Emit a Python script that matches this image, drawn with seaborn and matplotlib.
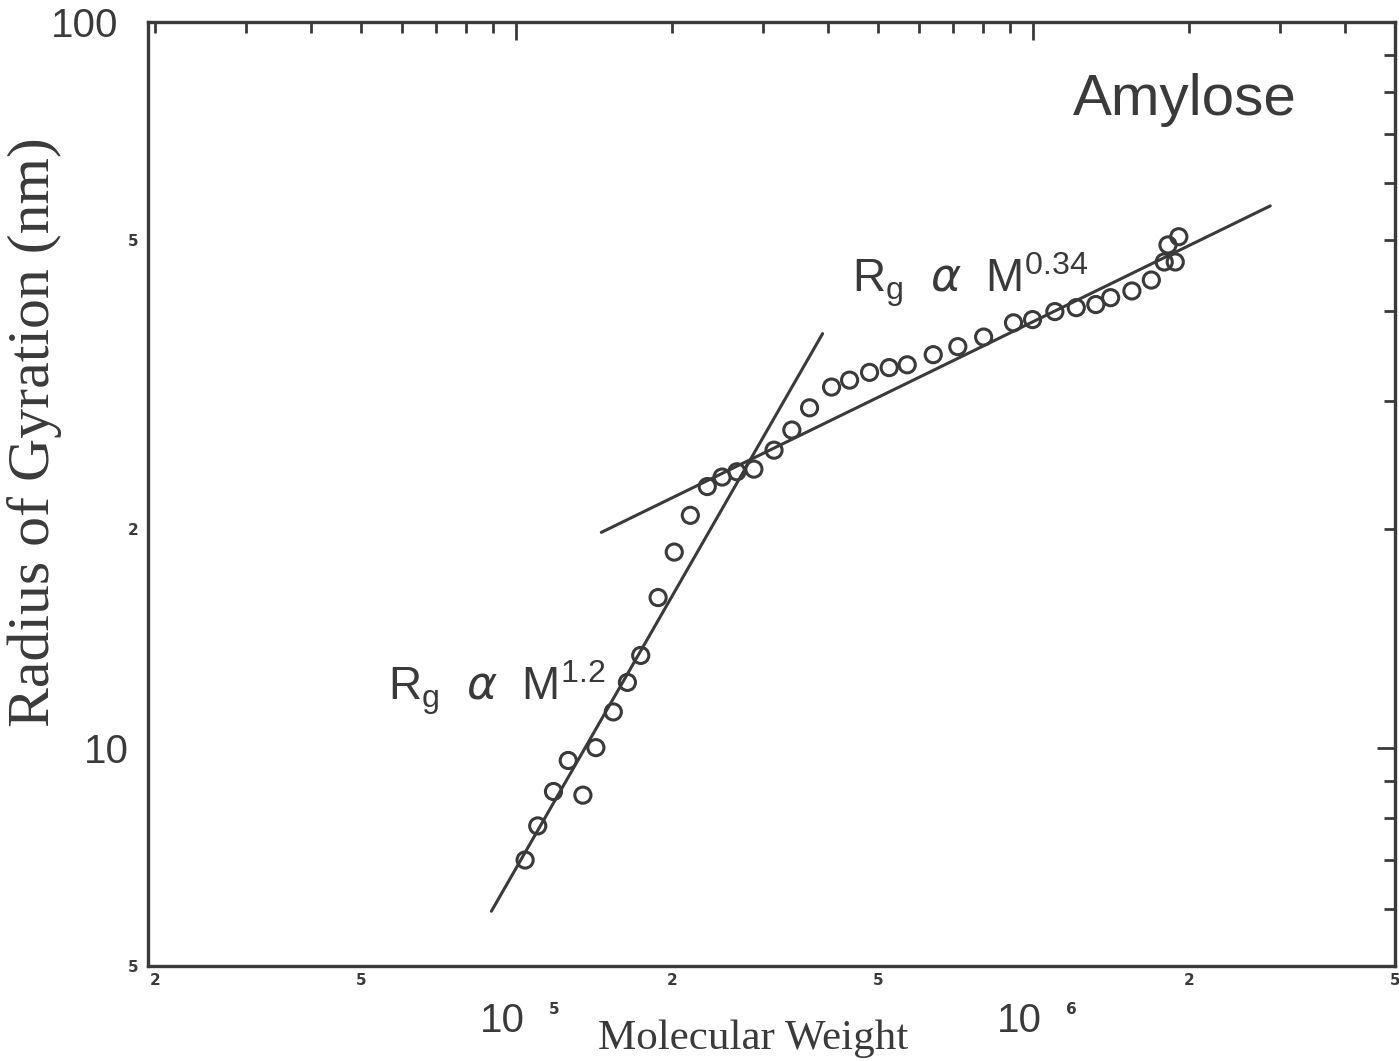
import matplotlib
matplotlib.use("Agg")
import matplotlib.pyplot as plt
from matplotlib.transforms import ScaledTranslation
import pandas as pd
import seaborn as sns

# Light-scattering data for amylose: molecular weight vs radius of gyration (nm)
mol_weight = [1.04e5, 1.10e5, 1.18e5, 1.26e5, 1.345e5, 1.425e5, 1.54e5, 1.64e5,
              1.74e5, 1.88e5, 2.02e5, 2.17e5, 2.34e5, 2.50e5, 2.67e5, 2.88e5,
              3.15e5, 3.41e5, 3.69e5, 4.07e5, 4.41e5, 4.82e5, 5.26e5, 5.70e5,
              6.40e5, 7.14e5, 8.01e5, 9.15e5, 9.96e5, 1.10e6, 1.21e6, 1.32e6,
              1.41e6, 1.55e6, 1.69e6, 1.79e6, 1.88e6, 1.82e6, 1.91e6]
radius_gyration = [7.0, 7.8, 8.7, 9.6, 8.6, 10.0, 11.2, 12.3,
                   13.4, 16.1, 18.6, 20.9, 22.9, 23.6, 24.0, 24.2,
                   25.7, 27.4, 29.4, 31.4, 32.1, 32.9, 33.4, 33.7,
                   34.8, 35.7, 36.8, 38.5, 38.9, 39.9, 40.4, 40.8,
                   41.7, 42.6, 44.1, 46.7, 46.7, 49.3, 50.6]

# End points of the two fitted power-law segments
fit_low_M = [8.95e4, 3.91e5]
fit_low_R = [5.95, 37.2]
fit_high_M = [1.46e5, 2.87e6]
fit_high_R = [19.8, 55.8]

# Axis ticks and labels
x_major = [1e5, 1e6]
x_major_labels = ["10", "10"]
x_major_exponents = ["5", "6"]
x_minor = [2e4, 3e4, 4e4, 5e4, 6e4, 7e4, 8e4, 9e4,
           2e5, 3e5, 4e5, 5e5, 6e5, 7e5, 8e5, 9e5,
           2e6, 3e6, 4e6, 5e6]
x_minor_labels = ["2", "", "", "5", "", "", "", "",
                  "2", "", "", "5", "", "", "", "",
                  "2", "", "", "5"]
y_major = [10, 100]
y_major_labels = ["10", "100"]
y_minor = [5, 6, 7, 8, 9, 20, 30, 40, 50, 60, 70, 80, 90]
y_minor_labels = ["5", "", "", "", "", "2", "", "", "5", "", "", "", ""]

ink = "#3a3a3a"

sns.set_style("white")
plt.rcParams["font.family"] = ["Liberation Sans", "DejaVu Sans"]
plt.rcParams["mathtext.fontset"] = "dejavusans"
plt.rcParams["text.color"] = ink
plt.rcParams["axes.edgecolor"] = ink

fig = plt.figure(figsize=(13.99, 10.61), dpi=100)
ax = fig.add_axes([0.1058, 0.0895, 0.8913, 0.8897])

df = pd.DataFrame({"M": mol_weight, "Rg": radius_gyration})
sns.lineplot(x=fit_low_M, y=fit_low_R, ax=ax, color=ink, linewidth=2.2,
             estimator=None, sort=False)
sns.lineplot(x=fit_high_M, y=fit_high_R, ax=ax, color=ink, linewidth=2.2,
             estimator=None, sort=False)
sns.scatterplot(data=df, x="M", y="Rg", ax=ax, marker="o", s=135,
                facecolors="none", edgecolor=ink, linewidth=2.2, zorder=3)

ax.set_xscale("log")
ax.set_yscale("log")
ax.set_xlim(1.94e4, 4.86e6)
ax.set_ylim(5, 100)

for side in ["left", "right", "top", "bottom"]:
    ax.spines[side].set_visible(True)
    ax.spines[side].set_linewidth(2.4)
    ax.spines[side].set_color(ink)

ax.set_xticks(x_major, labels=x_major_labels, fontsize=29)
ax.set_xticks(x_minor, labels=x_minor_labels, minor=True,
              fontsize=11, fontweight="bold", family="DejaVu Sans")
ax.set_yticks(y_major, labels=y_major_labels, fontsize=29)
ax.set_yticks(y_minor, labels=y_minor_labels, minor=True,
              fontsize=11, fontweight="bold", family="DejaVu Sans")

ax.tick_params(which="both", direction="in", top=True, right=True,
               color=ink, labelcolor=ink, width=2.0)
ax.tick_params(which="major", length=13)
ax.tick_params(which="minor", length=8)
ax.tick_params(axis="x", which="major", pad=26)
ax.tick_params(axis="x", which="minor", pad=5)
ax.tick_params(axis="y", which="major", pad=14)
ax.tick_params(axis="y", which="minor", pad=7)

# shift the decade "10" labels left to leave room for the small exponent
shift = ScaledTranslation(-14 / 100, 0, fig.dpi_scale_trans)
for lbl in ax.get_xticklabels():
    lbl.set_transform(lbl.get_transform() + shift)
top_shift = ScaledTranslation(-10 / 100, 0, fig.dpi_scale_trans)
ytl = ax.get_yticklabels()
ytl[-1].set_transform(ytl[-1].get_transform() + top_shift)

for xm, ex in zip(x_major, x_major_exponents):
    ax.annotate(ex, xy=(xm, 0), xycoords=("data", "axes fraction"),
                xytext=(27, -26), textcoords="offset points",
                ha="center", va="top", fontsize=11, fontweight="bold",
                family="DejaVu Sans", color=ink, annotation_clip=False)

ax.set_xlabel("Molecular Weight", fontsize=31, family="Liberation Serif", color=ink)
ax.set_ylabel("Radius of Gyration (nm)", fontsize=43, family="Liberation Serif", color=ink)
ax.xaxis.set_label_coords(0.485, -0.057)
ax.yaxis.set_label_coords(-0.069, 0.566)

ax.text(0.742, 0.9015, "Amylose", transform=ax.transAxes, fontsize=42,
        color=ink, ha="left", va="baseline")
ax.text(0.5646, 0.713, r"R$_{\mathregular{g}}$  $\alpha$  M$^{\mathregular{0.34}}$",
        transform=ax.transAxes, fontsize=33, color=ink, ha="left", va="baseline")
ax.text(0.1925, 0.2818, r"R$_{\mathregular{g}}$  $\alpha$  M$^{\mathregular{1.2}}$",
        transform=ax.transAxes, fontsize=33, color=ink, ha="left", va="baseline")

fig.savefig("out.png", dpi=100, facecolor="white")
